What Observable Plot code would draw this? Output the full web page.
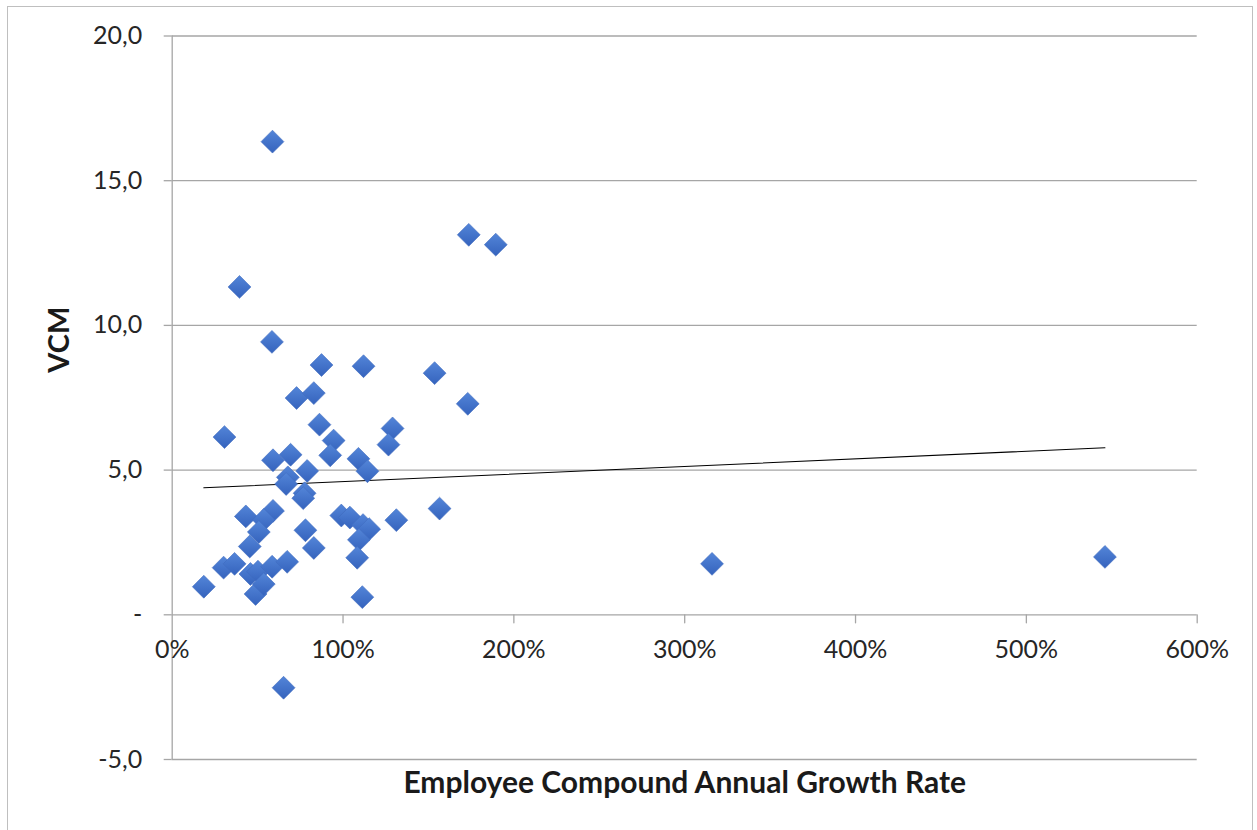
<!DOCTYPE html>
<html>
<head>
<meta charset="utf-8">
<script src="https://cdn.jsdelivr.net/npm/d3@7"></script>
<script src="https://cdn.jsdelivr.net/npm/@observablehq/plot@0.6"></script>
<style>
  html, body { margin: 0; padding: 0; background: #fff; }
  #wrap { position: relative; width: 1257px; height: 830px; overflow: hidden; }
  #border { position: absolute; left: 7px; top: 6px; width: 1246px; height: 840px; border: 1px solid #bfbfbf; box-sizing: border-box; pointer-events: none; }
  svg { position: absolute; left: 0; top: 0; }
</style>
</head>
<body>
<div id="wrap"><div id="border"></div></div>
<script>
// Employee compound annual growth rate (%) and VCM
const growthPct = [
  18.5, 58.7, 39.4, 58.4, 173.6, 189.4, 153.6, 173.0, 112.0, 87.4,
  30.6, 72.8, 82.9, 86.2, 94.5, 92.5, 129.0, 126.6, 59.0, 69.3,
  109.0, 114.3, 79.0, 67.7, 66.7, 77.5, 76.7, 156.5, 131.2, 43.1,
  59.0, 53.6, 50.7, 45.4, 99.0, 104.0, 111.7, 115.3, 109.3, 78.0,
  82.9, 108.3, 111.3, 30.1, 36.5, 45.8, 50.2, 48.8, 53.6, 58.5,
  67.3, 65.2, 316.0, 546.0
];
const vcm = [
  0.97, 16.35, 11.33, 9.43, 13.13, 12.79, 8.35, 7.29, 8.59, 8.63,
  6.14, 7.49, 7.66, 6.57, 6.02, 5.51, 6.44, 5.88, 5.34, 5.53,
  5.39, 4.96, 4.97, 4.75, 4.52, 4.20, 4.03, 3.67, 3.27, 3.40,
  3.59, 3.28, 2.86, 2.36, 3.43, 3.36, 3.10, 2.96, 2.59, 2.92,
  2.31, 1.97, 0.61, 1.63, 1.76, 1.41, 1.49, 0.72, 1.06, 1.66,
  1.83, -2.52, 1.76, 2.00
];
// Linear trend line end points
const trendX = [18.5, 546.0];
const trendY = [4.39, 5.77];

const xTicks = [0, 100, 200, 300, 400, 500, 600];
const yTicks = [-5, 0, 5, 10, 15, 20];
const xLabel = "Employee Compound Annual Growth Rate";
const yLabel = "VCM";

const points = growthPct.map((g, i) => ({g, v: vcm[i]}));
const trend = trendX.map((x, i) => ({x, y: trendY[i]}));

const gridColor = "#a6a6a6";
const font = "Lato, 'Open Sans', sans-serif";

const fmtY = d => d === 0 ? "-" : d.toFixed(1).replace(".", ",");

const chart = Plot.plot({
  width: 1257,
  height: 830,
  marginLeft: 171.7,
  marginRight: 60.3,
  marginTop: 35.5,
  marginBottom: 71,
  style: {fontFamily: font, fontSize: "25px", color: "#262626", background: "transparent"},
  x: {domain: [0, 600], axis: null},
  y: {domain: [-5, 20], axis: null},
  marks: [
    Plot.ruleY(yTicks, {stroke: gridColor, strokeWidth: 1.3}),
    Plot.ruleX([0], {stroke: gridColor, strokeWidth: 1.3}),
    Plot.axisY(yTicks, {tickSize: 8, tickPadding: 22, tickFormat: fmtY, stroke: gridColor, strokeWidth: 1.3, fill: "#262626", fontSize: 25, label: null}),
    Plot.vector(xTicks.filter(d => d > 0), {x: d => d, y: 0, length: 8, rotate: 180, anchor: "start", shape: {draw(ctx, l) { ctx.moveTo(0, 0); ctx.lineTo(0, -l); }}, stroke: gridColor, strokeWidth: 1.3}),
    Plot.text(xTicks, {x: d => d, y: 0, dy: 35, text: d => d + "%", fill: "#262626", fontSize: 25}),
    Plot.line(trend, {x: "x", y: "y", stroke: "#000", strokeWidth: 1.1}),
    Plot.dot(points, {x: "g", y: "v", symbol: "diamond2", r: 10.3, fill: "url(#dgrad)", stroke: "#3f6cc0", strokeWidth: 0.6}),
    Plot.text([xLabel], {frameAnchor: "bottom", dy: 33, text: d => d, fontWeight: "bold", fontSize: 30, fill: "#1a1a1a"}),
    Plot.text([yLabel], {frameAnchor: "left", dx: -112, dy: -25, rotate: -90, text: d => d, fontWeight: "bold", fontSize: 29, fill: "#1a1a1a"})
  ]
});

const svg = d3.select(chart);
const defs = svg.insert("defs", ":first-child");
const grad = defs.append("linearGradient").attr("id", "dgrad").attr("x1", 0).attr("y1", 0).attr("x2", 0).attr("y2", 1);
grad.append("stop").attr("offset", "0%").attr("stop-color", "#5385d8");
grad.append("stop").attr("offset", "100%").attr("stop-color", "#3563bd");

document.getElementById("wrap").appendChild(chart);
</script>
</body>
</html>
